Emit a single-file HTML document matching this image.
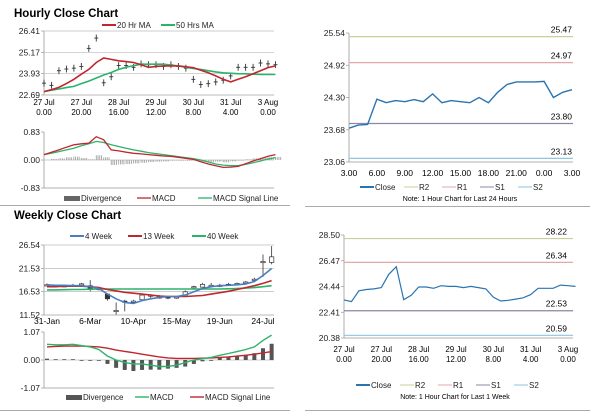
<!DOCTYPE html>
<html><head><meta charset="utf-8"><style>
body{margin:0;background:#fff;width:600px;height:413px;overflow:hidden;font-family:"Liberation Sans",sans-serif}
svg text{font-family:"Liberation Sans",sans-serif}
</style></head><body>
<svg id="s" width="600" height="413" viewBox="0 0 600 413">
<text x="14" y="17" font-size="11.5" font-weight="bold">Hourly Close Chart</text>
<text x="14" y="219" font-size="11.5" font-weight="bold">Weekly Close Chart</text>
<line x1="0" y1="205.5" x2="290" y2="205.5" stroke="#aaa"/>
<line x1="305" y1="206.5" x2="590" y2="206.5" stroke="#aaa"/>
<line x1="0" y1="410.5" x2="290" y2="410.5" stroke="#aaa"/>
<line x1="305" y1="410.5" x2="590" y2="410.5" stroke="#aaa"/>
</svg>
<script>
// ===== Hourly (4h steps) =====
const hourlyClose=[23.38,23.25,24.1,24.2,24.25,24.35,25.4,26.0,23.4,23.75,24.4,24.4,24.3,24.5,24.45,24.45,24.35,24.45,24.35,24.25,23.6,23.3,23.35,23.45,23.55,23.8,24.3,24.3,24.3,24.55,24.5,24.45];
const hourlyMA20=[22.89,23.0,23.13,23.35,23.6,23.9,24.18,24.58,24.84,24.76,24.68,24.63,24.58,24.45,24.3,24.35,24.38,24.38,24.38,24.33,24.28,24.13,23.98,23.8,23.6,23.45,23.6,23.75,23.93,24.1,24.28,24.38];
const hourlyMA50=[22.89,22.97,23.04,23.12,23.19,23.35,23.5,23.68,23.85,24.0,24.18,24.3,24.4,24.48,24.48,24.48,24.48,24.43,24.38,24.3,24.23,24.18,24.1,24.03,23.98,23.95,23.93,23.92,23.9,23.89,23.88,23.88];
const hourlyMACD=[0.16,0.23,0.3,0.38,0.45,0.48,0.5,0.69,0.6,0.3,0.27,0.23,0.2,0.18,0.16,0.14,0.12,0.11,0.08,0.05,0.02,-0.05,-0.12,-0.17,-0.22,-0.21,-0.19,-0.11,-0.03,0.04,0.11,0.16];
const hourlySignal=[0.16,0.2,0.25,0.3,0.35,0.42,0.48,0.55,0.52,0.45,0.4,0.35,0.3,0.26,0.22,0.19,0.16,0.13,0.1,0.07,0.04,0.0,-0.06,-0.12,-0.15,-0.17,-0.17,-0.13,-0.08,-0.03,0.03,0.07];
const hourlyDiv=[0,0.03,0.05,0.08,0.1,0.06,0.02,0.14,0.08,-0.15,-0.13,-0.12,-0.1,-0.08,-0.06,-0.05,-0.04,-0.02,-0.02,-0.02,-0.02,-0.05,-0.06,-0.05,-0.07,-0.04,-0.02,0.02,0.05,0.07,0.08,0.09];
const hourlyTicks=["22.69","23.93","25.17","26.41"];
const macdTicksH=["-0.83","0.00","0.83"];
const dateLabels=[["27 Jul","0.00"],["27 Jul","20.00"],["28 Jul","16.00"],["29 Jul","12.00"],["30 Jul","8.00"],["31 Jul","4.00"],["3 Aug","0.00"]];
// ===== Last 24h =====
const dayClose=[23.71,23.77,23.78,24.27,24.2,24.24,24.22,24.26,24.22,24.37,24.2,24.24,24.22,24.2,24.3,24.2,24.4,24.55,24.6,24.6,24.6,24.61,24.3,24.4,24.45];
const dayTicks=["23.06","23.68","24.30","24.92","25.54"];
const dayXLabels=["3.00","6.00","9.00","12.00","15.00","18.00","21.00","0.00","3.00"];
const dayLevels=[25.47,24.97,23.80,23.13];
const weekLevels=[28.22,26.34,22.53,20.59];
const weekTicksR=["20.38","22.41","24.44","26.47","28.50"];
// ===== Weekly =====
const weeklyCats=["31-Jan","6-Mar","10-Apr","15-May","19-Jun","24-Jul"];
const weeklyClose=[18.0,17.8,17.8,17.9,18.2,17.0,17.2,15.0,12.5,14.3,14.5,15.8,15.8,15.4,15.2,15.4,16.5,17.6,18.1,17.9,17.8,18.1,18.3,18.6,19.2,23.0,24.0];
const weeklyOpen=[18.0,17.9,17.8,17.9,18.1,17.8,17.2,16.0,12.5,14.5,14.5,14.8,15.6,15.2,15.4,15.2,15.8,17.5,17.5,17.8,17.9,18.0,18.2,18.5,19.0,22.8,22.8];
const weeklyHigh=[18.3,18.0,18.0,18.2,18.4,19.0,17.6,16.2,14.2,14.8,14.8,16.0,16.0,15.8,15.6,15.6,16.8,17.8,18.4,18.4,18.2,18.4,18.5,18.8,19.5,24.5,26.3];
const weeklyLow=[17.8,17.6,17.6,17.7,17.9,16.6,16.8,14.6,11.6,12.3,14.2,15.2,15.2,15.0,14.9,15.0,16.0,17.2,17.5,17.4,17.5,17.8,18.1,18.4,18.9,19.7,22.4];
const weeklyMA4=[18.0,17.9,17.9,17.8,17.8,17.6,17.2,16.0,15.0,14.2,14.0,14.6,15.0,15.3,15.5,15.5,15.8,16.5,17.2,17.6,17.8,17.9,18.0,18.2,18.7,20.0,21.5];
const weeklyMA13=[17.6,17.6,17.7,17.7,17.7,17.6,17.4,17.0,16.7,16.4,16.2,16.0,15.8,15.6,15.5,15.5,15.5,15.6,15.7,16.0,16.3,16.6,17.0,17.4,17.8,18.3,18.9];
const weeklyMA40=[16.9,16.9,16.95,17.0,17.0,17.05,17.1,17.1,17.1,17.1,17.1,17.1,17.1,17.1,17.1,17.1,17.1,17.1,17.1,17.1,17.1,17.15,17.2,17.3,17.4,17.6,17.8];
const weeklyMACD=[0.6,0.58,0.58,0.6,0.55,0.5,0.4,0.15,0.0,-0.1,-0.15,-0.15,-0.2,-0.25,-0.25,-0.2,-0.1,0.0,0.05,0.1,0.18,0.25,0.32,0.4,0.5,0.75,0.95];
const weeklySignal=[0.5,0.52,0.53,0.53,0.53,0.52,0.5,0.45,0.38,0.33,0.28,0.22,0.17,0.12,0.08,0.06,0.06,0.06,0.07,0.08,0.1,0.12,0.15,0.18,0.22,0.27,0.32];
const weeklyDiv=[0.05,0.03,0.03,0.03,0.0,-0.01,-0.02,-0.15,-0.3,-0.38,-0.42,-0.38,-0.37,-0.37,-0.33,-0.3,-0.25,-0.15,-0.05,0.0,0.08,0.1,0.14,0.2,0.26,0.45,0.62];
const weeklyTicks=["11.52","16.53","21.53","26.54"];
const macdTicksW=["-1.07","0.00","1.07"];

const S=document.getElementById('s');const NS='http://www.w3.org/2000/svg';
function mk(tag,at,name,txt){const e=document.createElementNS(NS,tag);for(const k in at)e.setAttribute(k,at[k]);


if(txt!==undefined)e.textContent=txt;S.appendChild(e);return e;}
function lin(d0,d1,r0,r1){return v=>r0+(v-d0)/(d1-d0)*(r1-r0);}
function poly(xs,ys,vals,col,w,name){mk('polyline',{points:vals.map((v,i)=>xs(i).toFixed(1)+','+ys(v).toFixed(1)).join(' '),fill:'none',stroke:col,'stroke-width':w},name);}
function axes(x0,x1,y0,y1,name){mk('line',{x1:x0,y1:y0,x2:x0,y2:y1,stroke:'#999','stroke-width':0.8},name+'-y-axis');mk('line',{x1:x0,y1:y1,x2:x1,y2:y1,stroke:'#999','stroke-width':0.8},name+'-x-axis');}
function yTicks(ticks,ys,x0,x1,grid,name){ticks.forEach(t=>{const y=ys(parseFloat(t));
if(grid)mk('line',{x1:x0,y1:y,x2:x1,y2:y,stroke:'#bbb','stroke-width':0.7},name+'-gridline');
mk('line',{x1:x0-3,y1:y,x2:x0,y2:y,stroke:'#999','stroke-width':0.7},name+'-tick');
mk('text',{x:x0-4,y:y+3,'font-size':8.5,'text-anchor':'end',fill:'#222'},name+'-tick-label',t);});}
function legLine(x,y,col,label,name,w){mk('line',{x1:x,y1:y,x2:x+14,y2:y,stroke:col,'stroke-width':w||2},name+'-swatch');mk('text',{x:x+15,y:y+3,'font-size':8,fill:'#222'},name+'-label',label);}
function legBox(x,y,col,label,name){mk('rect',{x:x,y:y-2,width:16,height:5,fill:col},name+'-swatch');mk('text',{x:x+17,y:y+3,'font-size':8,fill:'#222'},name+'-label',label);}
const RED='#c0272d',GRN='#2cb36b',BLUE='#4a7fbf',DBLUE='#2a74b0';

// ---- Hourly price (top-left)
{const xs=lin(0,30,44,268);const ys=lin(22.69,26.41,95,31);
axes(44,274,31,95,'hourly-price');yTicks(hourlyTicks,ys,44,274,true,'hourly-price');
hourlyClose.forEach((v,i)=>{const x=xs(i);
mk('line',{x1:x,y1:ys(v+0.2),x2:x,y2:ys(v-0.2),stroke:'#333','stroke-width':0.9},'hourly-bar');
mk('line',{x1:x-2,y1:ys(v),x2:x,y2:ys(v),stroke:'#333','stroke-width':0.9},'hourly-bar-open');
mk('line',{x1:x,y1:ys(v),x2:x+2,y2:ys(v),stroke:'#333','stroke-width':0.9},'hourly-bar-close');});
poly(xs,ys,hourlyMA50,GRN,1.6,'ma50-line');poly(xs,ys,hourlyMA20,RED,1.6,'ma20-line');
dateLabels.forEach((d,i)=>{const x=lin(0,6,44,268)(i);mk('text',{x:x,y:105,'font-size':8,'text-anchor':'middle'},'hourly-x-label',d[0]);mk('text',{x:x,y:115,'font-size':8,'text-anchor':'middle'},'hourly-x-label',d[1]);});
legLine(102,25,RED,'20 Hr MA','legend-ma20');legLine(161,25,GRN,'50 Hrs MA','legend-ma50');}
// ---- Hourly MACD
{const xs=lin(0,30,44,268);const ys=lin(-0.83,0.83,188,132);
axes(44,274,132,188,'hourly-macd');yTicks(macdTicksH,ys,44,274,false,'hourly-macd');
mk('line',{x1:44,y1:ys(0),x2:274,y2:ys(0),stroke:'#bbb','stroke-width':0.7},'hourly-macd-zero');
hourlyDiv.forEach((v,i)=>{for(let k=0;k<4;k++){const x=xs(i)+k*1.75;mk('line',{x1:x,y1:ys(0),x2:x,y2:ys(v),stroke:'#999','stroke-width':0.8},'hourly-divergence-bar');}});
poly(xs,ys,hourlySignal,GRN,1.3,'hourly-signal-line');poly(xs,ys,hourlyMACD,RED,1.3,'hourly-macd-line');
legBox(64,198,'#666','Divergence','legend-divergence');legLine(137,198,RED,'MACD','legend-macd',1.3);legLine(198,198,GRN,'MACD Signal Line','legend-signal',1.3);}
// ---- 24h chart (top-right)
{const xs=lin(0,24,349,572);const ys=lin(23.06,25.54,162,33);
axes(349,573,33,162,'day');yTicks(dayTicks,ys,349,573,false,'day');
const cols=['#c8cf9a','#e6a7a7','#8e84a8','#8cc6df'];
dayLevels.forEach((v,i)=>{mk('line',{x1:349,y1:ys(v),x2:573,y2:ys(v),stroke:cols[i],'stroke-width':1.2},'day-level-line');mk('text',{x:572,y:ys(v)-4,'font-size':8.5,'text-anchor':'end'},'day-level-label',v.toFixed(2));});
poly(xs,ys,dayClose,DBLUE,1.4,'day-close-line');
dayXLabels.forEach((t,i)=>{mk('text',{x:lin(0,8,349,572)(i),y:176,'font-size':8.5,'text-anchor':'middle'},'day-x-label',t);});
legLine(360,187,DBLUE,'Close','legend-close');legLine(404,187,cols[0],'R2','legend-r2',1);legLine(442,187,cols[1],'R1','legend-r1',1);legLine(480,187,cols[2],'S1','legend-s1',1);legLine(518,187,cols[3],'S2','legend-s2',1);
mk('text',{x:460,y:201,'font-size':7,'text-anchor':'middle'},'day-note','Note: 1 Hour Chart for Last 24 Hours');}
// ---- Week hourly (bottom-right)
{const xs=lin(0,30,344,568);const ys=lin(20.38,28.50,338,235);
axes(344,573,235,338,'week');yTicks(weekTicksR,ys,344,573,false,'week');
const cols=['#c8cf9a','#e6a7a7','#8e84a8','#8cc6df'];
weekLevels.forEach((v,i)=>{mk('line',{x1:344,y1:ys(v),x2:573,y2:ys(v),stroke:cols[i],'stroke-width':1.2},'week-level-line');mk('text',{x:567,y:ys(v)-4,'font-size':8.5,'text-anchor':'end'},'week-level-label',v.toFixed(2));});
poly(xs,ys,hourlyClose,DBLUE,1.2,'week-close-line');
dateLabels.forEach((d,i)=>{const x=lin(0,6,344,568)(i);mk('text',{x:x,y:352,'font-size':8,'text-anchor':'middle'},'week-x-label',d[0]);mk('text',{x:x,y:362,'font-size':8,'text-anchor':'middle'},'week-x-label',d[1]);});
legLine(356,385,DBLUE,'Close','legend-week-close');legLine(400,385,cols[0],'R2','legend-week-r2',1);legLine(438,385,cols[1],'R1','legend-week-r1',1);legLine(476,385,cols[2],'S1','legend-week-s1',1);legLine(514,385,cols[3],'S2','legend-week-s2',1);
mk('text',{x:455,y:399,'font-size':7,'text-anchor':'middle'},'week-note','Note: 1 Hour Chart for Last 1 Week');}
// ---- Weekly price (bottom-left)
{const xs=lin(0,25,47,263);const ys=lin(11.52,26.54,315,245);
axes(44,274,245,315,'weekly-price');yTicks(weeklyTicks,ys,44,274,true,'weekly-price');
weeklyClose.forEach((c,i)=>{const o=weeklyOpen[i],x=xs(i);
mk('line',{x1:x,y1:ys(weeklyHigh[i]),x2:x,y2:ys(weeklyLow[i]),stroke:'#333','stroke-width':0.8},'weekly-wick');
const top=ys(Math.max(o,c)),h=Math.max(1.2,Math.abs(ys(o)-ys(c)));
mk('rect',{x:x-2.2,y:top,width:4.4,height:h,fill:c>=o?'#fff':'#333',stroke:'#333','stroke-width':0.7},'weekly-candle');});
poly(xs,ys,weeklyMA40,GRN,1.6,'ma40w-line');poly(xs,ys,weeklyMA13,RED,1.6,'ma13w-line');poly(xs,ys,weeklyMA4,BLUE,1.6,'ma4w-line');
weeklyCats.forEach((t,i)=>{mk('text',{x:lin(0,5,47,263)(i),y:324,'font-size':8.5,'text-anchor':'middle'},'weekly-x-label',t);});
legLine(70,236,BLUE,'4 Week','legend-4w');legLine(128,236,RED,'13 Week','legend-13w');legLine(192,236,GRN,'40 Week','legend-40w');}
// ---- Weekly MACD
{const xs=lin(0,25,47,263);const ys=lin(-1.07,1.07,388,332);
axes(44,274,332,388,'weekly-macd');yTicks(macdTicksW,ys,44,274,false,'weekly-macd');
mk('line',{x1:44,y1:ys(0),x2:274,y2:ys(0),stroke:'#bbb','stroke-width':0.7},'weekly-macd-zero');
weeklyDiv.forEach((v,i)=>{const y0=ys(0),y1=ys(v);mk('rect',{x:xs(i)-2,y:Math.min(y0,y1),width:4,height:Math.max(0.8,Math.abs(y1-y0)),fill:'#555'},'weekly-divergence-bar');});
poly(xs,ys,weeklySignal,RED,1.4,'weekly-signal-line');poly(xs,ys,weeklyMACD,GRN,1.4,'weekly-macd-line');
legBox(66,397,'#555','Divergence','legend-weekly-divergence');legLine(135,397,GRN,'MACD','legend-weekly-macd',1.4);legLine(190,397,RED,'MACD Signal Line','legend-weekly-signal',1.4);}
</script>
</body></html>
